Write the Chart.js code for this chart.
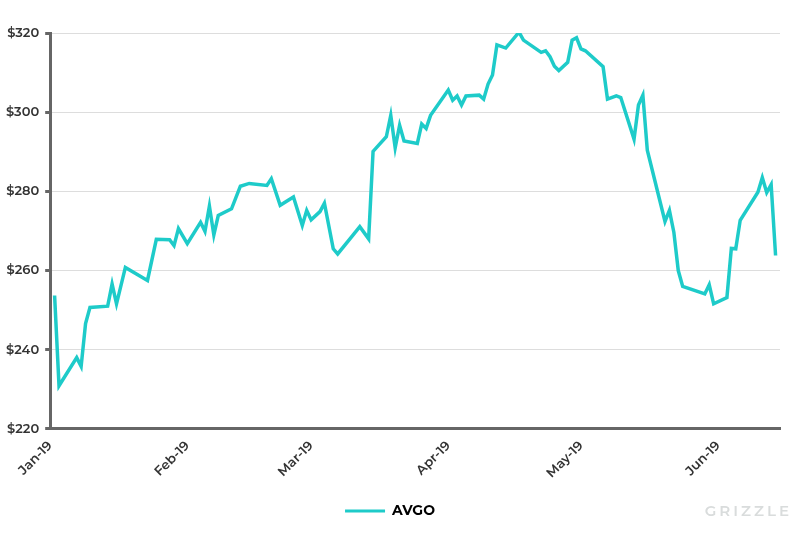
<!DOCTYPE html>
<html>
<head>
<meta charset="utf-8">
<script src="https://cdn.jsdelivr.net/npm/chart.js@4"></script>
<style>
  body { margin: 0; background: #fff; }
  #wrap { position: relative; width: 800px; height: 534px; }
  #mark { position: absolute; right: 8px; bottom: 14px; font: 600 15px Montserrat, "Open Sans", sans-serif; letter-spacing: 3px; color: #d9dcdc; }
</style>
</head>
<body>
<div id="wrap">
  <canvas id="c" width="800" height="534"></canvas>
  <div id="mark">GRIZZLE</div>
</div>
<script>
// day offset from 1 Jan 2019 and closing price
const days = [1, 2, 6, 7, 8, 9, 13, 14, 15, 17, 22, 24, 27, 28, 29, 31, 34, 35, 36, 37, 38, 41, 43, 45, 49, 50, 52, 55,
  57, 58, 59, 61, 62, 64, 65, 68, 70, 72, 73, 76, 77, 78, 79, 80, 83, 84, 85, 86, 90, 91, 92, 93, 94, 97, 98, 99, 100,
  101, 103, 106, 107, 111, 112, 113, 114, 115, 117, 118, 119, 120, 121, 125, 126, 128, 129, 132, 133, 134, 135, 139,
  140, 141, 142, 143, 148, 149, 150, 153, 154, 155, 156, 160, 161, 162, 163, 164];
const prices = [253.7, 230.9, 238.0, 235.8, 246.6, 250.7, 251.0, 256.6, 251.6, 260.8, 257.5, 267.9, 267.8, 266.3,
  270.6, 266.8, 272.2, 269.9, 276.3, 269.0, 273.9, 275.6, 281.3, 282.0, 281.5, 283.2, 276.5, 278.6, 271.4, 275.2,
  272.8, 274.9, 277.0, 265.5, 264.2, 268.3, 271.1, 268.0, 290.1, 293.8, 299.2, 291.0, 296.7, 292.7, 292.1, 297.0,
  295.9, 299.2, 305.6, 303.0, 304.1, 301.8, 304.1, 304.3, 303.3, 307.1, 309.4, 317.0, 316.2, 320.2, 318.2, 315.1,
  315.5, 314.0, 311.6, 310.5, 312.6, 318.2, 318.8, 316.0, 315.5, 311.5, 303.3, 304.1, 303.7, 293.2, 301.8, 304.3,
  290.4, 272.4, 275.2, 269.7, 260.0, 256.0, 254.1, 256.4, 251.6, 253.2, 265.6, 265.5, 272.7, 279.8, 283.5, 279.7,
  281.7, 263.8];
const monthStarts = [0, 31, 59, 90, 120, 151];
const monthLabels = ['Jan-19', 'Feb-19', 'Mar-19', 'Apr-19', 'May-19', 'Jun-19'];
const yTicks = [220, 240, 260, 280, 300, 320];

const font = { family: 'Montserrat, "Open Sans", sans-serif', size: 13, weight: '600' };

new Chart(document.getElementById('c'), {
  type: 'line',
  data: {
    datasets: [{
      label: 'AVGO',
      data: days.map((d, i) => ({ x: d, y: prices[i] })),
      borderColor: '#1ecbc9',
      backgroundColor: '#1ecbc9',
      borderWidth: 3.5,
      pointRadius: 0,
      tension: 0
    }]
  },
  options: {
    responsive: false,
    animation: false,
    layout: { padding: { top: 33, right: 20, left: 0, bottom: 6 } },
    plugins: {
      legend: {
        position: 'bottom',
        labels: {
          color: '#333', font: { ...font, size: 14, weight: 'bold' },
          boxWidth: 40, boxHeight: 3, padding: 20,
          generateLabels: chart => [{ text: 'AVGO', fillStyle: '#1ecbc9', strokeStyle: '#1ecbc9', lineWidth: 0 }]
        }
      },
      tooltip: { enabled: false }
    },
    scales: {
      x: {
        type: 'linear', min: 0, max: 165,
        afterBuildTicks: ax => { ax.ticks = monthStarts.map(v => ({ value: v })); },
        ticks: {
          color: '#333', font, maxRotation: 45, minRotation: 45, autoSkip: false,
          callback: v => monthLabels[monthStarts.indexOf(v)]
        },
        grid: { display: false, drawTicks: true, tickLength: 6, color: '#666' },
        border: { color: '#666', width: 3 }
      },
      y: {
        min: 220, max: 320,
        afterBuildTicks: ax => { ax.ticks = yTicks.map(v => ({ value: v })); },
        ticks: { color: '#333', font, padding: 6, callback: v => '$' + v },
        grid: { color: '#dddddd', lineWidth: 1, tickLength: 5, tickColor: '#666', tickWidth: 3 },
        border: { color: '#666', width: 3 }
      }
    }
  }
});
</script>
</body>
</html>
